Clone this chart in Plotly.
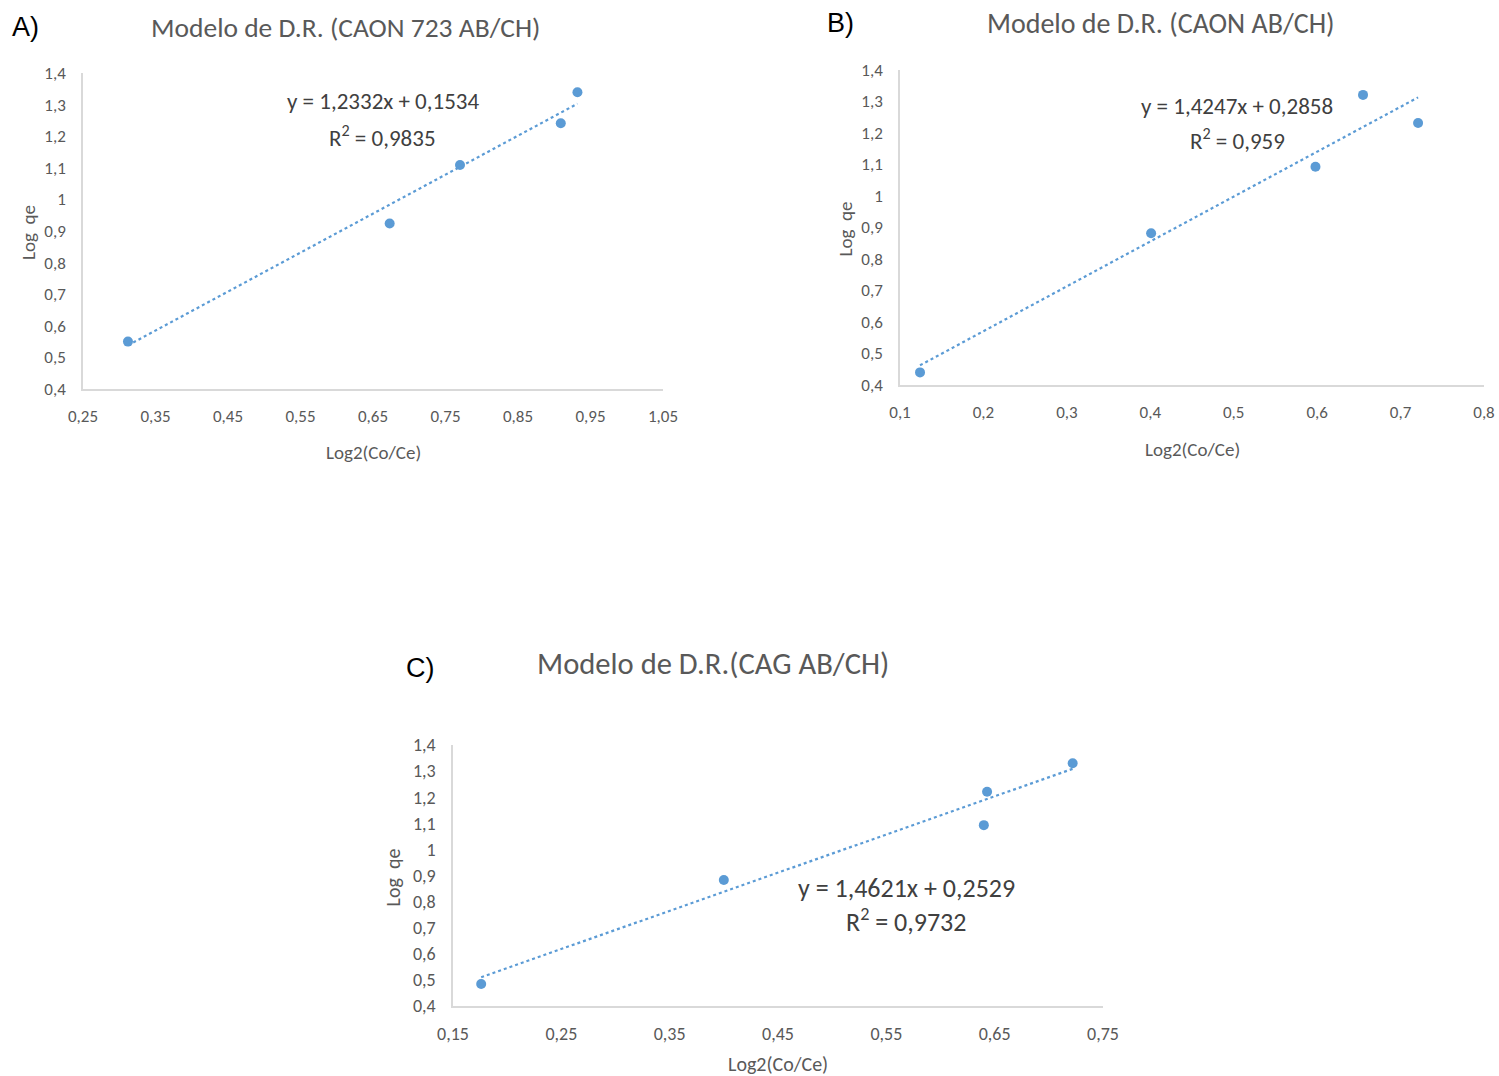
import numpy as np
import plotly.graph_objects as go

# ---------------- data ----------------
xA = [0.312, 0.673, 0.770, 0.909, 0.932]
yA = [0.550, 0.924, 1.109, 1.241, 1.339]
slopeA, interA, r2A = 1.2332, 0.1534, "0,9835"

xB = [0.124, 0.401, 0.598, 0.655, 0.721]
yB = [0.440, 0.882, 1.093, 1.321, 1.232]
slopeB, interB, r2B = 1.4247, 0.2858, "0,959"

xC = [0.176, 0.400, 0.640, 0.643, 0.722]
yC = [0.484, 0.883, 1.093, 1.221, 1.330]
slopeC, interC, r2C = 1.4621, 0.2529, "0,9732"

titles = ["Modelo de D.R. (CAON 723 AB/CH)", "Modelo de D.R. (CAON AB/CH)", "Modelo de D.R.(CAG AB/CH)"]
letters = ["A)", "B)", "C)"]

y_ticks = [0.4, 0.5, 0.6, 0.7, 0.8, 0.9, 1.0, 1.1, 1.2, 1.3, 1.4]
y_ticktext = ["0,4", "0,5", "0,6", "0,7", "0,8", "0,9", "1", "1,1", "1,2", "1,3", "1,4"]
xA_ticks = [0.25, 0.35, 0.45, 0.55, 0.65, 0.75, 0.85, 0.95, 1.05]
xA_text = ["0,25", "0,35", "0,45", "0,55", "0,65", "0,75", "0,85", "0,95", "1,05"]
xB_ticks = [0.1, 0.2, 0.3, 0.4, 0.5, 0.6, 0.7, 0.8]
xB_text = ["0,1", "0,2", "0,3", "0,4", "0,5", "0,6", "0,7", "0,8"]
xC_ticks = [0.15, 0.25, 0.35, 0.45, 0.55, 0.65, 0.75]
xC_text = ["0,15", "0,25", "0,35", "0,45", "0,55", "0,65", "0,75"]

W, H = 1499, 1076
FONT = "Carlito, Lato, sans-serif"
GRAY = "#595959"
BLUE = "#5b9bd5"


def px(x):
    return x / W


def py(y):
    return 1 - y / H


fig = go.Figure()

# per panel layout (reference pixel positions) and font sizes
panels = [
    dict(xs=xA, ys=yA, m=slopeA, b=interA, r2=r2A, xt=xA_ticks, xtt=xA_text,
         xd=(83, 663), yd=(73, 389), eq=(383, 101), eq2=(383, 137), tp=(345, 28), lp=(25, 27),
         xtitle_y=452, ytitle_x=28, fs_t=27.5, fs_eq=23, fs_tick=17, fs_ax=19),
    dict(xs=xB, ys=yB, m=slopeB, b=interB, r2=r2B, xt=xB_ticks, xtt=xB_text,
         xd=(900, 1484), yd=(70, 385), eq=(1237, 106), eq2=(1237, 140), tp=(1161, 24), lp=(840, 23),
         xtitle_y=449, ytitle_x=845, fs_t=28, fs_eq=23, fs_tick=17, fs_ax=19),
    dict(xs=xC, ys=yC, m=slopeC, b=interC, r2=r2C, xt=xC_ticks, xtt=xC_text,
         xd=(453, 1103), yd=(745, 1006), eq=(906, 888), eq2=(906, 920), tp=(713, 663), lp=(420, 668),
         xtitle_y=1064, ytitle_x=392, fs_t=30.6, fs_eq=26, fs_tick=18, fs_ax=20),
]


def ann(x, y, text, size, color=GRAY, family=FONT, angle=0):
    return dict(x=px(x), y=py(y), xref="paper", yref="paper", text=text, showarrow=False,
                xanchor="center", yanchor="middle", textangle=angle,
                font=dict(family=family, size=size, color=color))


annotations = []
for i, p in enumerate(panels):
    n = "" if i == 0 else str(i + 1)
    xa, ya = "x" + n, "y" + n
    fig.add_trace(go.Scatter(x=p["xs"], y=p["ys"], mode="markers", xaxis=xa, yaxis=ya,
                             marker=dict(color=BLUE, size=10), showlegend=False))
    xl = np.array([min(p["xs"]), max(p["xs"])])
    fig.add_trace(go.Scatter(x=xl, y=p["m"] * xl + p["b"], mode="lines", xaxis=xa, yaxis=ya,
                             line=dict(color=BLUE, width=2.2, dash="dot"), showlegend=False))
    xd, yd = p["xd"], p["yd"]
    axx = dict(domain=[px(xd[0]), px(xd[1])], range=[p["xt"][0], p["xt"][-1]],
               tickvals=p["xt"], ticktext=p["xtt"],
               showgrid=False, zeroline=False, showline=True, linecolor="#d9d9d9", linewidth=1.5,
               ticks="outside", ticklen=11, tickcolor="rgba(0,0,0,0)", automargin=False,
               tickfont=dict(family=FONT, size=p["fs_tick"], color=GRAY), anchor=ya, fixedrange=True)
    axy = dict(domain=[py(yd[1]), py(yd[0])], range=[0.4, 1.4], tickvals=y_ticks, ticktext=y_ticktext,
               showgrid=False, zeroline=False, showline=True, linecolor="#d9d9d9", linewidth=1.5,
               ticks="outside", ticklen=12, tickcolor="rgba(0,0,0,0)", automargin=False,
               tickfont=dict(family=FONT, size=p["fs_tick"], color=GRAY), anchor=xa, fixedrange=True)
    fig.update_layout(**{"xaxis" + n: axx, "yaxis" + n: axy})

    eq = f"y = {str(p['m']).replace('.', ',')}x + {str(p['b']).replace('.', ',')}"
    annotations.append(ann(*p["eq"], eq, p["fs_eq"], color="#404040"))
    annotations.append(ann(*p["eq2"], f"R<sup>2</sup> = {p['r2']}", p["fs_eq"], color="#404040"))
    annotations.append(ann(*p["tp"], titles[i], p["fs_t"]))
    annotations.append(ann(*p["lp"], letters[i], 27, color="#000000",
                           family="Liberation Sans, Arial, sans-serif"))
    annotations.append(ann((xd[0] + xd[1]) / 2, p["xtitle_y"], "Log2(Co/Ce)", p["fs_ax"]))
    annotations.append(ann(p["ytitle_x"], (yd[0] + yd[1]) / 2 + 2, "Log  qe", p["fs_ax"], angle=-90))

fig.update_layout(width=W, height=H, margin=dict(l=0, r=0, t=0, b=0, autoexpand=False),
                  paper_bgcolor="white", plot_bgcolor="white", annotations=annotations,
                  showlegend=False)

fig.write_html("out.html", config={"displayModeBar": False},
               post_script="document.body.style.margin='0';document.body.style.overflow='hidden';")
